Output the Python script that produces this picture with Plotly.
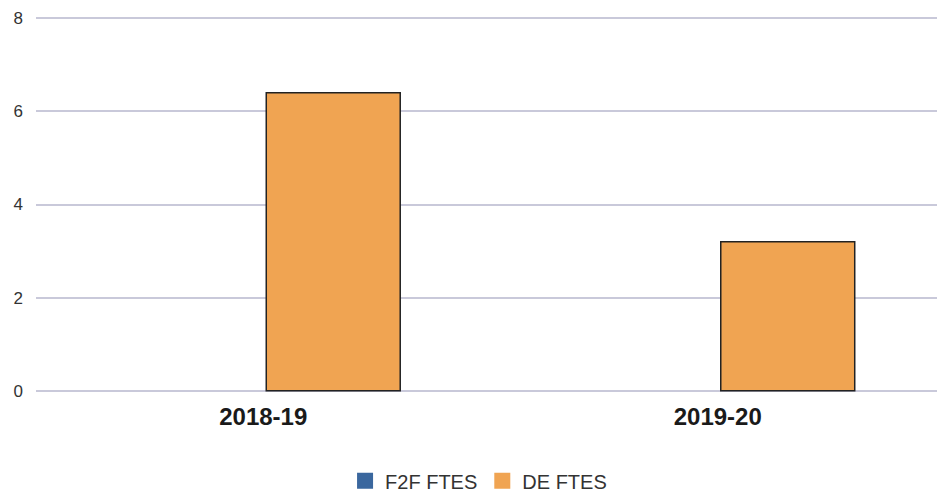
import plotly.graph_objects as go

categories = ["2018-19", "2019-20"]
f2f_ftes = [0, 0]
de_ftes = [6.4, 3.2]
y_ticks = [0, 2, 4, 6, 8]
series_names = ["F2F FTES", "DE FTES"]
series_colors = ["#3A679E", "#F0A452"]

fig = go.Figure()
fig.add_trace(go.Bar(
    x=categories, y=f2f_ftes, name=series_names[0], showlegend=False,
    marker=dict(color=series_colors[0], line=dict(color="#222222", width=0)),
))
fig.add_trace(go.Bar(
    x=categories, y=de_ftes, name=series_names[1], showlegend=False,
    marker=dict(color=series_colors[1], line=dict(color="#222222", width=1.5)),
))
# legend entries (plain squares, no outline)
for name, col in zip(series_names, series_colors):
    fig.add_trace(go.Scatter(
        x=[None], y=[None], mode="markers", name=name,
        marker=dict(symbol="square", size=16, color=col, line=dict(width=0)),
    ))

# page body has an 8px default margin, so the figure is sized to fit the window
fig.update_layout(
    width=937, height=484,
    margin=dict(l=28, r=0, t=8, b=99, autoexpand=False),
    paper_bgcolor="white", plot_bgcolor="white",
    barmode="group", bargap=0.384, bargroupgap=0.043,
    font=dict(family="Liberation Sans, Arial, sans-serif", color="#333333"),
    showlegend=True,
    legend=dict(orientation="h", x=0.340, xanchor="left", y=-0.233, yanchor="middle",
                font=dict(size=20, color="#333333"), itemsizing="trace"),
    xaxis=dict(showgrid=False, showline=False, zeroline=False, ticks="", automargin=False,
               ticklabelstandoff=7,
               tickfont=dict(size=24, color="#1a1a1a", family="Liberation Sans, Arial, sans-serif", weight="bold")),
    yaxis=dict(range=[-0.05, 8.05], tickvals=y_ticks, showgrid=True, gridcolor="#C9C9DA", gridwidth=2,
               zeroline=False, showline=False, ticks="", ticklabelstandoff=12, automargin=False,
               tickfont=dict(size=17, color="#333333")),
)

fig.write_html("out.html")
